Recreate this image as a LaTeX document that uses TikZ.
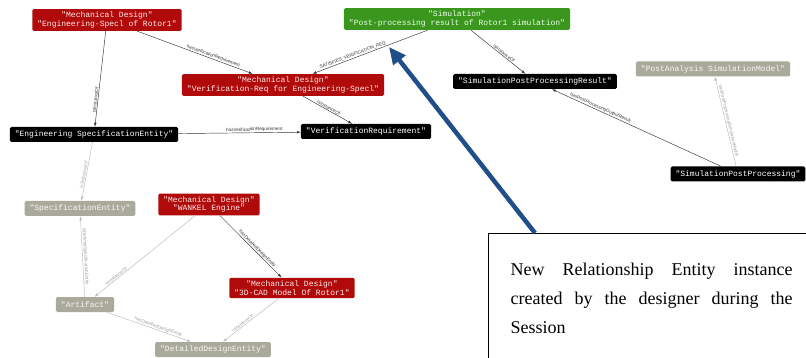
\documentclass[tikz,border=0pt]{standalone}
\usepackage{xcolor}
\usepackage{fontspec}
\setmainfont{Liberation Serif}
\newfontfamily\entfont{Liberation Mono}
\newfontfamily\relfont{Liberation Sans}
\usetikzlibrary{arrows.meta}

\definecolor{mdred}{RGB}{176,10,10}
\definecolor{simgreen}{RGB}{58,150,28}
\definecolor{clsgray}{RGB}{170,170,156}
\definecolor{noteblue}{RGB}{31,78,138}

\begin{document}
\begin{tikzpicture}[x=1pt,y=-1pt,
	entbox/.style={rounded corners=1.5pt, inner xsep=5pt, inner ysep=3pt, minimum height=15pt, align=center, font=\entfont\fontsize{8}{8.5}\selectfont},
	redbox/.style={entbox, fill=mdred, text=red!8},
	greenbox/.style={entbox, fill=simgreen, text=green!8},
	blackbox/.style={entbox, fill=black, text=white},
	graybox/.style={entbox, fill=clsgray, text=white!92!clsgray},
	rel/.style={-{Latex[length=4pt,width=2.6pt]}, draw=black!80, line width=0.45pt},
	relg/.style={rel, draw=black!28},
	lbl/.style={font=\relfont\fontsize{4.6}{5}\selectfont, inner sep=0.6pt, text=black!80, sloped, above},
	lblg/.style={lbl, text=black!38},
	notebox/.style={draw, line width=1.1pt, anchor=north west, text width=282pt, inner xsep=22pt, inner ysep=0pt, minimum height=130pt, align=justify, font=\fontsize{18}{29}\selectfont},
	notearrow/.style={draw=noteblue, line width=4.5pt, -{Triangle[length=17pt,width=15pt]}}]
	\useasboundingbox (0,0) rectangle (806,358);
	
	% Instancias
	\node[redbox] (ES) at (107,20) {"Mechanical Design"\\"Engineering-Specl of Rotor1"};
	\node[redbox] (VR) at (283,85) {"Mechanical Design"\\"Verification-Req for Engineering-Specl"};
	\node[greenbox] (SIM) at (457,19) {"Simulation"\\"Post-processing result of Rotor1 simulation"};
	\node[redbox] (WNK) at (209,204.5) {"Mechanical Design"\\"WANKEL Engine"};
	\node[redbox] (CAD) at (292,288) {"Mechanical Design"\\"3D-CAD Model Of Rotor1"};
	
	% Classes
	\node[blackbox] (ESE) at (94,134.5) {"Engineering SpecificationEntity"};
	\node[blackbox] (VRE) at (366,131.5) {"VerificationRequirement"};
	\node[blackbox] (SPR) at (535,81.5) {"SimulationPostProcessingResult"};
	\node[blackbox] (SPP) at (738,174) {"SimulationPostProcessing"};
	\node[graybox] (PAM) at (713,69) {"PostAnalysis SimulationModel"};
	\node[graybox] (SPE) at (80,208.5) {"SpecificationEntity"};
	\node[graybox] (ART) at (85,304.5) {"Artifact"};
	\node[graybox] (DDE) at (213,349.5) {"DetailedDesignEntity"};
	
	% Relacoes
	\draw[rel] (ES) -- (ESE) node[lbl, pos=0.72] {isInstanceOf};
	\draw[rel] (ES) -- (VR) node[lbl, pos=0.65] {hasVerificationRequirement};
	\draw[rel] (ESE) -- (VRE) node[lbl, pos=0.62] {hasVerificationRequirement};
	\draw[rel] (VR) -- (VRE) node[lbl, pos=0.5] {isInstanceOf};
	\draw[rel] (SIM) -- (VR) node[lbl, pos=0.64] {SATISFIES\_VERIFICATION\_REQ};
	\draw[rel] (SIM) -- (SPR) node[lbl, pos=0.58] {isInstanceOf};
	\draw[rel] (SPP) -- (SPR) node[lbl, pos=0.72] {hasPostProcessingOutputResult};
	\draw[relg] (SPP) -- (PAM) node[lblg, pos=0.5] {hasPostProcessingSimulationModel};
	\draw[relg] (ESE) -- (SPE) node[lblg, pos=0.56] {isSubclassOf};
	\draw[relg] (ART) -- (SPE) node[lblg, pos=0.5] {isDefinedSpecificationEntity};
	\draw[relg] (WNK) -- (ART) node[lblg, pos=0.77] {isInstanceOf};
	\draw[rel] (WNK) -- (CAD) node[lbl, pos=0.57] {hasDetailedDesignEntity};
	\draw[relg] (ART) -- (DDE) node[lblg, pos=0.6] {hasDetailedDesignEntity};
	\draw[relg] (CAD) -- (DDE) node[lblg, pos=0.62] {isInstanceOf};
	
	% Nota
	\node[notebox] (NOTE) at (488,233) {New Relationship Entity instance\linebreak created by the designer during the\linebreak Session};
	\coordinate (TIP) at (389,47);
	\draw[notearrow] ([xshift=47pt]NOTE.north west) -- (TIP);
\end{tikzpicture}
\end{document}
